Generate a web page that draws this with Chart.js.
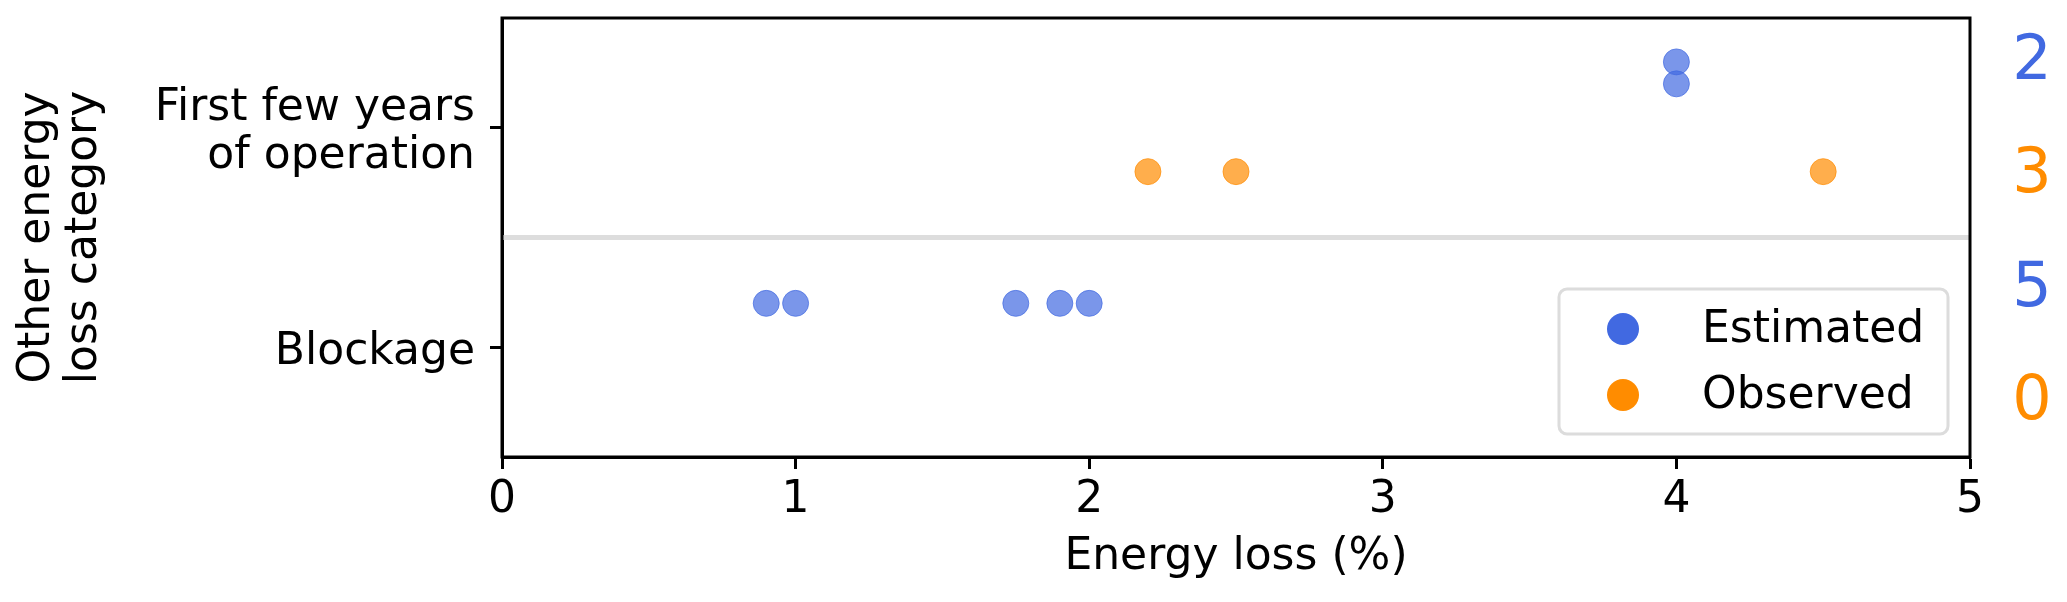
<!DOCTYPE html>
<html lang="en">
<head>
<meta charset="UTF-8">
<title>Other energy loss</title>
<style>
  body { margin: 0; background: #fff; }
</style>
</head>
<body>
<canvas id="myChart" width="2067" height="602"></canvas>
<script src="https://cdn.jsdelivr.net/npm/chart.js"></script>
<script>
// categories from bottom to top
const categories = ['Blockage', 'First few years of operation'];
const yTickLabels = [['Blockage'], ['First few years', 'of operation']];
const yTitle = ['Other energy', 'loss category'];
const xTicks = [0, 1, 2, 3, 4, 5];

// energy loss (%) per category
const estimatedBlockage = [0.9, 1.0, 1.75, 1.9, 2.0];
const estimatedFirstYears = [4.0, 4.0];
const observedBlockage = [];
const observedFirstYears = [2.2, 2.5, 4.5];

const blue = 'rgb(65, 105, 225)';
const orange = 'rgb(255, 140, 0)';
const FONT = 'DejaVu Sans';

// each category gets its own row, estimated above, observed below,
// repeated values get stacked a bit higher
function toPoints(lists, shift) {
    var pts = [];
    lists.forEach(function(vals, cat) {
        var seen = {};
        vals.forEach(function(v) {
            var n = seen[v] || 0;
            seen[v] = n + 1;
            pts.push({ x: v, y: cat + shift + n * 0.1 });
        });
    });
    return pts;
}

const estimatedPts = toPoints([estimatedBlockage, estimatedFirstYears], 0.2);
const observedPts = toPoints([observedBlockage, observedFirstYears], -0.2);

// counts shown on the right, top to bottom
const counts = [
    { n: estimatedFirstYears.length, color: blue },
    { n: observedFirstYears.length, color: orange },
    { n: estimatedBlockage.length, color: blue },
    { n: observedBlockage.length, color: orange }
];

const extras = {
    id: 'extras',
    beforeDatasetsDraw(chart) {
        const ctx = chart.ctx;
        const a = chart.chartArea;
        const y = chart.scales.y.getPixelForValue(0.5);
        ctx.save();
        ctx.strokeStyle = '#dddddd';
        ctx.lineWidth = 5;
        ctx.beginPath();
        ctx.moveTo(a.left, y);
        ctx.lineTo(a.right, y);
        ctx.stroke();
        ctx.restore();
    },
    afterDraw(chart) {
        const ctx = chart.ctx;
        const a = chart.chartArea;
        ctx.save();
        // frame
        ctx.strokeStyle = '#000';
        ctx.lineWidth = 3;
        ctx.strokeRect(a.left, a.top, a.right - a.left, a.bottom - a.top);

        // y axis title, two lines rotated
        ctx.save();
        ctx.translate(38, (a.top + a.bottom) / 2);
        ctx.rotate(-Math.PI / 2);
        ctx.font = '44px "' + FONT + '"';
        ctx.fillStyle = '#000';
        ctx.textAlign = 'center';
        ctx.textBaseline = 'middle';
        yTitle.forEach(function(t, i) {
            ctx.fillText(t, 0, i * 47);
        });
        ctx.restore();

        // legend
        const bx = a.right - 411, by = a.bottom - 168;
        ctx.fillStyle = 'rgba(255,255,255,0.8)';
        ctx.strokeStyle = '#dcdcdc';
        ctx.lineWidth = 3;
        ctx.beginPath();
        ctx.roundRect(bx, by, 389, 145, 8);
        ctx.fill();
        ctx.stroke();
        const items = [
            { label: chart.data.datasets[0].label, color: blue },
            { label: chart.data.datasets[1].label, color: orange }
        ];
        ctx.font = '44px "' + FONT + '"';
        ctx.textAlign = 'left';
        ctx.textBaseline = 'alphabetic';
        items.forEach(function(it, i) {
            const cy = by + 40 + i * 66;
            ctx.fillStyle = it.color;
            ctx.beginPath();
            ctx.arc(bx + 64, cy, 16, 0, Math.PI * 2);
            ctx.fill();
            ctx.fillStyle = '#000';
            ctx.fillText(it.label, bx + 143, cy + 13);
        });

        // counts on the right
        const h = a.bottom - a.top;
        ctx.font = '62px "' + FONT + '"';
        ctx.textAlign = 'center';
        ctx.textBaseline = 'middle';
        counts.forEach(function(c, i) {
            ctx.fillStyle = c.color;
            ctx.fillText(String(c.n), a.right + 62, a.top + h * (0.1025 + i * 0.258));
        });
        ctx.restore();
    }
};

const ctx = document.getElementById('myChart').getContext('2d');
const myChart = new Chart(ctx, {
    type: 'scatter',
    data: {
        datasets: [{
            label: 'Estimated',
            data: estimatedPts,
            backgroundColor: 'rgba(65, 105, 225, 0.7)',
            borderColor: 'rgba(65, 105, 225, 0.7)',
            borderWidth: 1,
            pointRadius: 13
        }, {
            label: 'Observed',
            data: observedPts,
            backgroundColor: 'rgba(255, 140, 0, 0.7)',
            borderColor: 'rgba(255, 140, 0, 0.7)',
            borderWidth: 1,
            pointRadius: 13
        }]
    },
    options: {
        responsive: false,
        animation: false,
        devicePixelRatio: 1,
        events: [],
        layout: { padding: { top: 18, right: 97, left: 0, bottom: 0 } },
        plugins: {
            legend: { display: false },
            tooltip: { enabled: false }
        },
        scales: {
            x: {
                type: 'linear',
                min: 0,
                max: 5,
                afterBuildTicks: function(scale) {
                    scale.ticks = xTicks.map(function(v) { return { value: v }; });
                },
                afterFit: function(scale) {
                    scale.height = 145;
                    scale.paddingLeft = 0;
                    scale.paddingRight = 0;
                },
                ticks: {
                    color: '#000',
                    padding: 7,
                    maxRotation: 0,
                    font: { family: FONT, size: 44, lineHeight: 1.1 }
                },
                grid: { drawOnChartArea: false, tickLength: 12, tickWidth: 3, tickColor: '#000' },
                border: { color: '#000', width: 3 },
                title: {
                    display: true,
                    text: 'Energy loss (%)',
                    color: '#000',
                    font: { family: FONT, size: 44, lineHeight: 1.1 },
                    padding: { top: 0, bottom: 20 }
                }
            },
            y: {
                type: 'linear',
                min: -0.5,
                max: 1.5,
                afterBuildTicks: function(scale) {
                    scale.ticks = categories.map(function(c, i) { return { value: i }; });
                },
                afterFit: function(scale) {
                    scale.width = 502;
                    scale.paddingTop = 0;
                    scale.paddingBottom = 0;
                },
                ticks: {
                    color: '#000',
                    padding: 15,
                    labelOffset: 5,
                    font: { family: FONT, size: 44, lineHeight: 1.1 },
                    callback: function(v) { return yTickLabels[v]; }
                },
                grid: { drawOnChartArea: false, tickLength: 12, tickWidth: 3, tickColor: '#000' },
                border: { color: '#000', width: 3 }
            }
        }
    },
    plugins: [extras]
});
</script>
</body>
</html>
